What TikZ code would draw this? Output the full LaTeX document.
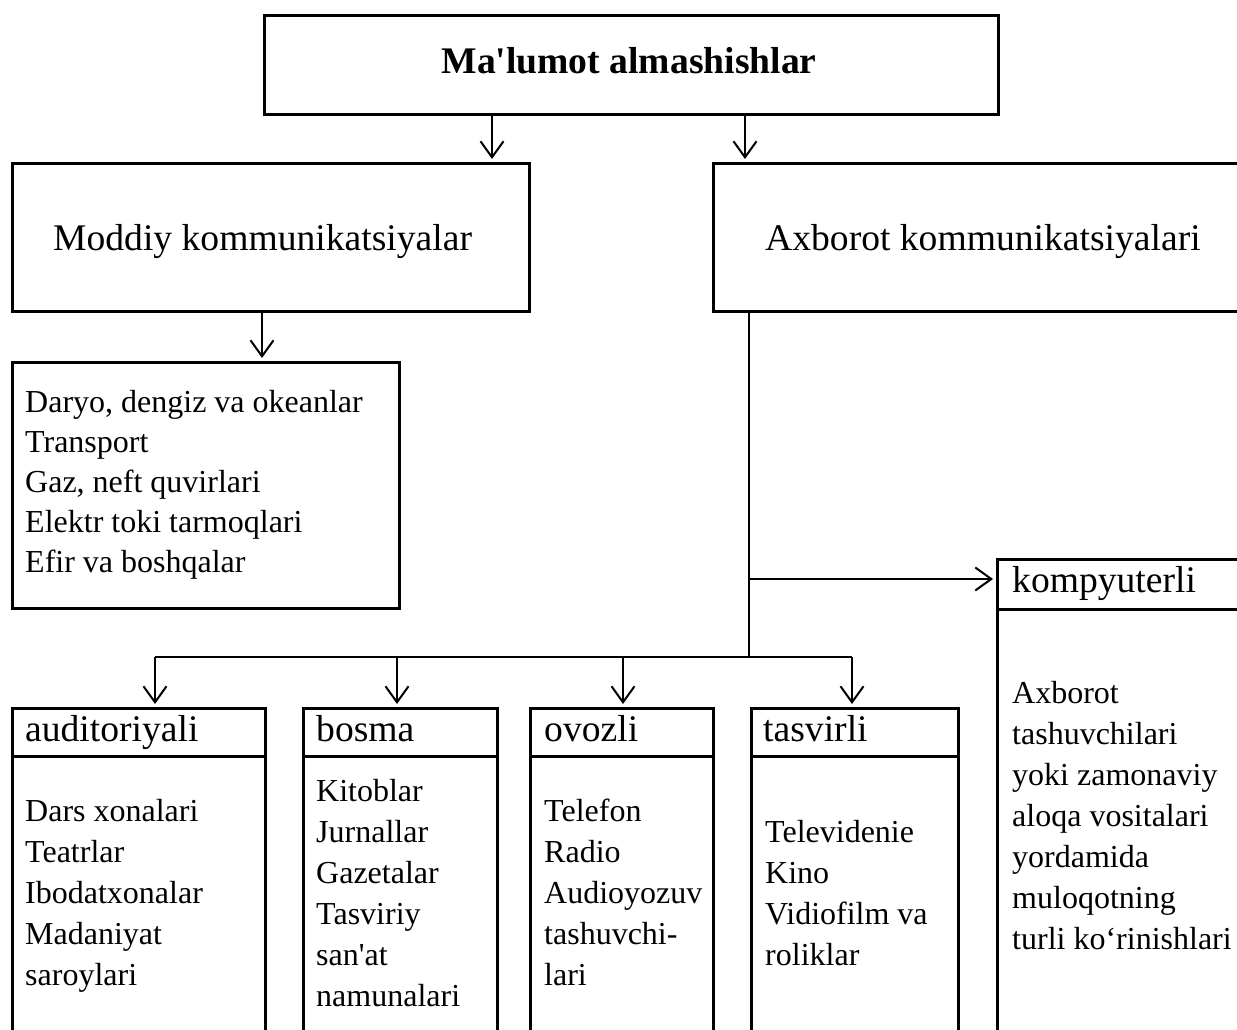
\documentclass[tikz,border=0pt]{standalone}
\usepackage{fontspec}
\newfontfamily\lib{Liberation Serif}
\usetikzlibrary{arrows.meta,calc}

\begin{document}
\begin{tikzpicture}[x=1pt,y=-1pt,
  frame/.style={draw,line width=2.6pt,rectangle,inner sep=0pt,anchor=north west},
  head/.style={font=\lib\fontsize{37.6}{44}\selectfont,inner sep=0pt,anchor=base west},
  item/.style={font=\lib\fontsize{32}{41}\selectfont,inner sep=0pt,anchor=base west},
  arr/.style={line width=2pt,-{Straight Barb[length=16pt,width=23pt,line width=2pt]},shorten >=3pt},
  wire/.style={line width=2.4pt}]
\clip (0,0) rectangle (1237,1030);
\fill[white] (0,0) rectangle (1237,1030);

% boxes
\node[frame,minimum width=734pt,minimum height=99pt] (top) at (263,14) {};
\node[frame,minimum width=517pt,minimum height=148pt] (moddiy) at (11,162) {};
\node[frame,minimum width=540pt,minimum height=148pt] (axb) at (712,162) {};
\node[frame,minimum width=387pt,minimum height=246pt] (list) at (11,361) {};
\node[frame,minimum width=270pt,minimum height=50pt] (komp) at (996,558) {};
\node[frame,minimum width=270pt,minimum height=450pt] (kompb) at (996,608) {};
\node[frame,minimum width=253pt,minimum height=48pt] (aud) at (11,707) {};
\node[frame,minimum width=253pt,minimum height=300pt] (audb) at (11,755) {};
\node[frame,minimum width=194pt,minimum height=48pt] (bos) at (302,707) {};
\node[frame,minimum width=194pt,minimum height=300pt] (bosb) at (302,755) {};
\node[frame,minimum width=183pt,minimum height=48pt] (ovz) at (529,707) {};
\node[frame,minimum width=183pt,minimum height=300pt] (ovzb) at (529,755) {};
\node[frame,minimum width=207pt,minimum height=48pt] (tas) at (750,707) {};
\node[frame,minimum width=207pt,minimum height=300pt] (tasb) at (750,755) {};

% texts
\node[head,anchor=base,font=\lib\bfseries\fontsize{37.6}{44}\selectfont] (ttitle) at (629,74) {Ma'lumot almashishlar};
\node[head] (tmoddiy) at (53,250) {Moddiy kommunikatsiyalar};
\node[head] (taxb) at (765,250) {Axborot kommunikatsiyalari};
\node[head] (taud) at (25,741) {auditoriyali};
\node[head] (tbos) at (316,741) {bosma};
\node[head] (tovz) at (544,741) {ovozli};
\node[head] (ttas) at (763,741) {tasvirli};
\node[head] (tkomp) at (1012,592) {kompyuterli};

\foreach \t [count=\i from 0] in {{Daryo, dengiz va okeanlar},Transport,{Gaz, neft quvirlari},Elektr toki tarmoqlari,Efir va boshqalar}
  \node[item] (list-\i) at (25,412+40*\i) {\t};
\foreach \t [count=\i from 0] in {Dars xonalari,Teatrlar,Ibodatxonalar,Madaniyat,saroylari}
  \node[item] (aud-\i) at (25,821+41*\i) {\t};
\foreach \t [count=\i from 0] in {Kitoblar,Jurnallar,Gazetalar,Tasviriy,san'at,namunalari}
  \node[item] (bos-\i) at (316,801+41*\i) {\t};
\foreach \t [count=\i from 0] in {Telefon,Radio,Audioyozuv,tashuvchi-,lari}
  \node[item] (ovz-\i) at (544,821+41*\i) {\t};
\foreach \t [count=\i from 0] in {Televidenie,Kino,Vidiofilm va,roliklar}
  \node[item] (tas-\i) at (765,842+41*\i) {\t};
\foreach \t [count=\i from 0] in {Axborot,tashuvchilari,yoki zamonaviy,aloqa vositalari,yordamida,muloqotning,turli ko‘rinishlari}
  \node[item] (komp-\i) at (1012,703+41*\i) {\t};

% connector positions
\coordinate (c1) at (492,0);
\coordinate (c2) at (745,0);
\coordinate (c3) at (262,0);
\coordinate (trunk) at (749,0);
\coordinate (side) at (749,579);
\coordinate (busL) at (155,657);
\coordinate (busR) at (852,657);
\coordinate (b2) at (397,657);
\coordinate (b3) at (623,657);

% connectors
\draw[arr] (top.south -| c1) -- (moddiy.north -| c1);
\draw[arr] (top.south -| c2) -- (axb.north -| c2);
\draw[arr] (moddiy.south -| c3) -- (list.north -| c3);
\draw[wire] (axb.south -| trunk) -- (trunk |- busL);
\draw[wire] (busL) -- (busR);
\draw[arr] (side) -- (komp.west |- side);
\draw[arr] (busL) -- (aud.north -| busL);
\draw[arr] (b2) -- (bos.north -| b2);
\draw[arr] (b3) -- (ovz.north -| b3);
\draw[arr] (busR) -- (tas.north -| busR);
\end{tikzpicture}
\end{document}
